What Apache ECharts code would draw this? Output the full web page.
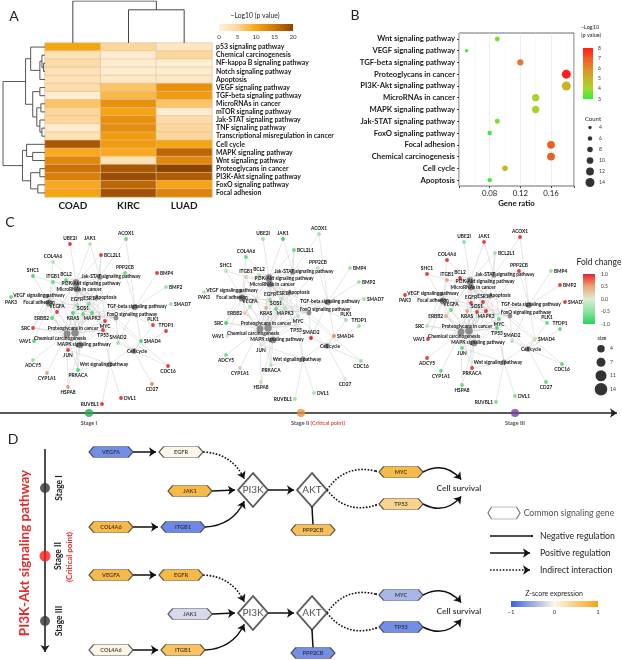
<!DOCTYPE html>
<html><head><meta charset="utf-8">
<script src="https://cdn.jsdelivr.net/npm/echarts@6/dist/echarts.min.js"></script>
<style>html,body{margin:0;padding:0;background:#fff}#c{width:622px;height:660px}</style>
</head><body><div id="c"></div>
<script>
// ================= DATA =================
// Panel A heatmap (-log10 p value)
const heatCols = ['COAD','KIRC','LUAD'];
const heatRows = ['p53 signaling pathway','Chemical carcinogenesis','NF-kappa B signaling pathway','Notch signaling pathway','Apoptosis','VEGF signaling pathway','TGF-beta signaling pathway','MicroRNAs in cancer','mTOR signaling pathway','Jak-STAT signaling pathway','TNF signaling pathway','Transcriptional misregulation in cancer','Cell cycle','MAPK signaling pathway','Wnt signaling pathway','Proteoglycans in cancer','PI3K-Akt signaling pathway','FoxO signaling pathway','Focal adhesion'];
const heatCOAD = [10,3,4,3,3,4,1,7,5,5,1,3,18,9.5,13,15.5,14,9.5,10];
const heatKIRC = [5,1,1,1,2,7,8,12,10,12,12.5,11,11,9.5,3,18,19,16.5,18.5];
const heatLUAD = [2,5,0.5,1,2,12,11,7,1,4,5,5,10,16.5,13,20,17.5,10,13.5];
const heatTicks = [0,5,10,15,20];
// dendrogram linkages: [childA, childB, height]; ids >= n are merged clusters
const colLinkage = [[1,2,0.79],[0,3,1.0]];
const rowLinkage = [
  [2,3,1.5],[1,19,3],[20,4,5],[0,21,14],
  [5,6,5],[10,11,3],[9,24,5],[7,8,4],[26,25,8],[23,27,12],[22,28,19],
  [13,14,12],[12,30,18],[15,16,5],[17,18,7],[32,33,14],[31,34,22],
  [29,35,41]
];
// Panel B dot plot
const bPathways = ['Wnt signaling pathway','VEGF signaling pathway','TGF-beta signaling pathway','Proteoglycans in cancer','PI3K-Akt signaling pathway','MicroRNAs in cancer','MAPK signaling pathway','Jak-STAT signaling pathway','FoxO signaling pathway','Focal adhesion','Chemical carcinogenesis','Cell cycle','Apoptosis'];
const bGeneRatio = [0.09,0.05,0.12,0.18,0.18,0.14,0.14,0.09,0.08,0.16,0.16,0.10,0.08];
const bCount = [7,4,9,14,14,11,11,7,6,12,12,8,6];
const bLogP = [3.6,3.0,6.4,8.0,5.0,4.2,4.3,3.6,3.1,6.9,6.9,5.0,3.1];
const bLogPTicks = [3,4,5,6,7,8];
const countLegend = [4,6,8,10,12,14];
// Panel C networks
const netGenes = ['UBE2I','JAK1','ACOX1','BCL2L1','COL4A6','SHC1','ITGB1','BCL2','PPP2CB','BMP4','BMP2','PAK3','SMAD7','EGFR','ESR1','SOS1','VEGFA','KRAS','MAPK3','ERBB2','MYC','PLK1','TFDP1','SRC','TP53','VAV1','SMAD2','SMAD4','JUN','ADCY5','CDC16','PRKACA','CYP1A1','CD27','HSPA8','DVL1','RUVBL1'];
const fcStage1 = [0.9,-0.3,-0.7,0.9,-0.3,-0.8,-0.7,-0.7,-0.7,0.9,-0.4,-0.7,-0.4,-0.4,-0.6,-0.7,0.9,-0.8,-0.8,-0.8,0.9,0.9,0.9,0.9,0.9,-0.8,-0.4,-0.8,0.9,-0.4,0.9,-0.8,0.5,0.6,0.55,0.9,0.9];
const fcStage2 = [-0.4,-0.9,-0.4,-0.7,-0.7,-0.3,0.25,-0.3,-0.2,-0.4,-0.4,-0.3,-0.4,-0.6,-0.3,-0.7,-0.3,0.45,-0.3,0.25,-0.2,-0.4,-0.4,-0.9,-0.1,-0.1,1.0,0.6,-0.1,-0.6,-0.4,-0.3,0.25,0.05,0.2,-0.4,-0.4];
const fcStage3 = [-0.5,0.9,0.9,-0.4,0.9,0.9,0.5,0.9,0.9,-0.4,0.9,0.9,0.9,0.9,0.9,0.9,-0.7,0.5,0.9,0.5,-0.7,-0.7,-0.7,-0.3,-0.8,0.9,-0.3,0.2,-0.7,0.9,-0.7,0.9,-0.7,-0.7,-0.7,-0.6,-0.6];
const netPathways = ['Jak-STAT signaling pathway','PI3K-Akt signaling pathway','MicroRNAs in cancer','VEGF signaling pathway','Apoptosis','Focal adhesion','TGF-beta signaling pathway','FoxO signaling pathway','Proteoglycans in cancer','Chemical carcinogenesis','MAPK signaling pathway','Cell cycle','Wnt signaling pathway'];
const netMembers = [
  ['JAK1','BCL2L1','BCL2','MYC','EGFR','SOS1','ACOX1'],
  ['COL4A6','ITGB1','BCL2','BCL2L1','JAK1','EGFR','VEGFA','KRAS','SOS1','MAPK3','MYC','TP53','PPP2CB','ERBB2'],
  ['BCL2','EGFR','ERBB2','KRAS','MYC','TP53','SHC1','UBE2I','ESR1','PLK1','CDC16'],
  ['VEGFA','KRAS','MAPK3','SRC'],
  ['BCL2','BCL2L1','TP53','MAPK3','JUN','KRAS'],
  ['COL4A6','ITGB1','SHC1','BCL2','EGFR','ERBB2','VEGFA','MAPK3','SRC','VAV1','JUN','PAK3'],
  ['BMP4','BMP2','SMAD7','SMAD2','SMAD4','MYC','MAPK3','PPP2CB','ACOX1'],
  ['EGFR','KRAS','SOS1','MAPK3','SMAD2','SMAD4'],
  ['ESR1','ERBB2','EGFR','VEGFA','KRAS','SOS1','MAPK3','MYC','TP53','SRC','PRKACA','ITGB1','VAV1','PPP2CB'],
  ['EGFR','ERBB2','KRAS','SOS1','MAPK3','SRC','CYP1A1','TP53','ESR1','HSPA8','ADCY5','PRKACA'],
  ['EGFR','ERBB2','VEGFA','KRAS','SOS1','MAPK3','MYC','TP53','JUN','PRKACA','HSPA8'],
  ['MYC','TP53','SMAD2','SMAD4','PLK1','TFDP1','CDC16','CD27'],
  ['MYC','TP53','SMAD4','JUN','PRKACA','DVL1','RUVBL1']
];
const stages = ['Stage I','Stage II','Stage III'];
const stageNote = '(Critical point)';
const fcTicks = [-1,-0.5,0,0.5,1];
const sizeLegend = [4,7,11,14];
// Panel D pathway
const dGenes = ['VEGFA','EGFR','JAK1','COL4A6','ITGB1','PPP2CB','MYC','TP53'];
const zStageI = [-0.9,0.04,0.95,0.95,-0.95,0.85,0.95,0.55];
const zStageIII = [0.95,0.95,-0.25,0.04,0.8,-0.9,-0.55,-0.9];
const dHubs = ['PI3K','AKT'];
const dOutcome = 'Cell survival';
const dEdges = [['VEGFA','EGFR','pos'],['EGFR','PI3K','ind'],['JAK1','PI3K','pos'],['COL4A6','ITGB1','pos'],['ITGB1','PI3K','pos'],['PI3K','AKT','pos'],['PPP2CB','AKT','neg'],['AKT','MYC','indneg'],['AKT','TP53','indneg'],['MYC',dOutcome,'pos'],['TP53',dOutcome,'pos']];
const dLegend = ['Common signaling gene','Negative regulation','Positive regulation','Indirect interaction'];
const zTicks = ['\u22121','0','1'];

// ================= LAYOUT / STYLE =================
const FONT = 'Lato, "Open Sans", "DejaVu Sans", sans-serif';
const heatColors = ['#fff1dc','#fdd79a','#f7a412','#d37508','#8d4302'];
const bColors = ['#33ee33','#9fdc2c','#c9b424','#e28a2a','#f05a24','#ff1f1a'];
const fcStops = [[-1,'#27d45a'],[-0.5,'#8fe2a0'],[0,'#d9eecf'],[0.5,'#eea57a'],[1,'#e3262a']];
const zStops = [[-1,'#3d63dc'],[0,'#fdf6ea'],[1,'#f5a30f']];
const netGeneLayout = {UBE2I:[70,244,'top'],JAK1:[90,244,'top'],ACOX1:[126,239,'top'],BCL2L1:[101,255,'right'],COL4A6:[53,262,'top'],SHC1:[33,276,'top'],ITGB1:[53,282,'top'],BCL2:[66,280,'top'],PPP2CB:[125,273,'top'],BMP4:[157,273,'right'],BMP2:[166,287,'right'],PAK3:[11,297,'bottom'],SMAD7:[171,304,'right'],EGFR:[77,305,'top'],ESR1:[89,304,'top'],SOS1:[83,314,'top'],VEGFA:[57,312,'top'],KRAS:[73,313,'bottom'],MAPK3:[92,313,'bottom'],ERBB2:[52,318,'left'],MYC:[105,321,'bottom'],PLK1:[153,325,'top'],TFDP1:[166,331,'top'],SRC:[33,328,'left'],TP53:[103,330,'bottom'],VAV1:[34,341,'left'],SMAD2:[118,343,'top'],SMAD4:[141,341,'right'],JUN:[68,350,'bottom'],ADCY5:[33,360,'bottom'],CDC16:[168,366,'bottom'],PRKACA:[78,370,'bottom'],CYP1A1:[47,373,'bottom'],CD27:[152,384,'bottom'],HSPA8:[68,387,'bottom'],DVL1:[121,398,'right'],RUVBL1:[102,404,'left']};
const netPathLayout = {'Jak-STAT signaling pathway':[100,277,11,-1],'PI3K-Akt signaling pathway':[76,283,15,0],'MicroRNAs in cancer':[77,289,2,0],'VEGF signaling pathway':[47,296,-8,-1],'Apoptosis':[96,298,10,-1],'Focal adhesion':[49,303,-10,-1],'TGF-beta signaling pathway':[135,307,2,-1],'FoxO signaling pathway':[116,318,16,-4],'Proteoglycans in cancer':[75,333,-2,-5],'Chemical carcinogenesis':[67,334,-7,4],'MAPK signaling pathway':[80,345,4,-1],'Cell cycle':[134,351,3,0],'Wnt signaling pathway':[110,364,-6,0]};
const netOffsets = [[0,0],[193,-5],[394,-2]];
const stageDotX = [89,301,515];
const stageColors = ['#1fae4b','#f08c3a','#7b3aa8'];
const dPos = {VEGFA:[111,452],EGFR:[181,452],JAK1:[190,491],COL4A6:[111,527],ITGB1:[183,527],PPP2CB:[313,530],MYC:[401,472],TP53:[401,504],PI3K:[253,490],AKT:[312,490],'Cell survival':[459,488]};
const dStageDy = [0,123];
const dEdgeGeom = [['r','l',0],['r','tl',0.3],['r','l',0],['r','l',0],['r','bl',-0.3],['r','l',0],['t','b',0],['r','l',0.35],['r','l',-0.35],['r','t',0.4],['r','b',-0.4]];
const HEX = 'path://M0,5L2.2,0L17.8,0L20,5L17.8,10L2.2,10Z';
const HEX_SIZE = [44,11];
const DIA_SIZE = [30,34];

// ================= HELPERS =================
function mix(c1,c2,t){const a=parseInt(c1.slice(1),16),b=parseInt(c2.slice(1),16);const f=(s)=>Math.round(((a>>s)&255)*(1-t)+((b>>s)&255)*t);return '#'+((1<<24)|(f(16)<<16)|(f(8)<<8)|f(0)).toString(16).slice(1);}
function lerpColor(stops,v){if(v<=stops[0][0])return stops[0][1];for(let i=1;i<stops.length;i++){if(v<=stops[i][0]){const t=(v-stops[i-1][0])/(stops[i][0]-stops[i-1][0]);return mix(stops[i-1][1],stops[i][1],t);}}return stops[stops.length-1][1];}
function grad(colors,horizontal,reverse){const n=colors.length;let cs=colors.map((c,i)=>({offset:i/(n-1),color:c}));if(reverse)cs=colors.slice().reverse().map((c,i)=>({offset:i/(n-1),color:c}));return new echarts.graphic.LinearGradient(0,0,horizontal?1:0,horizontal?0:1,cs);}
function dendro(linkage,n){const pos=[],hgt=[];for(let i=0;i<n;i++){pos.push(i);hgt.push(0);}const segs=[];linkage.forEach(([a,b,h])=>{segs.push([[pos[a],hgt[a]],[pos[a],h],[pos[b],h],[pos[b],hgt[b]]]);pos.push((pos[a]+pos[b])/2);hgt.push(h);});return segs;}
const countSize = c => 1 + 0.57*c;
const netSize = s => 5.5 + 0.5*s;

const grids=[],xAxes=[],yAxes=[],series=[],graphics=[];
function addGrid(g,xa,ya){grids.push(g);const i=grids.length-1;xAxes.push(Object.assign({gridIndex:i},xa));yAxes.push(Object.assign({gridIndex:i},ya));return i;}
const hv=(min,max,inv)=>({type:'value',show:false,min,max,inverse:!!inv});
function txt(text,x,y,o){o=o||{};graphics.push({type:'text',x,y,rotation:o.rot||0,z:20,style:{text,fontSize:o.size||8,fontWeight:o.weight||'normal',fontFamily:FONT,fill:o.color||'#222',align:o.align||'center',textAlign:o.align||'center',verticalAlign:'middle',textVerticalAlign:'middle'}});}
function bar(x,y,w,h,fill){graphics.push({type:'rect',z:15,shape:{x,y,width:w,height:h},style:{fill}});}

// ================= PANEL A =================
const gHeat = addGrid({left:45,top:43,width:167,height:154},
  {type:'category',data:heatCols,axisLine:{show:false},axisTick:{show:false},axisLabel:{interval:0,fontSize:10,fontWeight:'bold',color:'#1a1a1a',margin:4,fontFamily:FONT}},
  {type:'category',data:heatRows,inverse:true,position:'right',axisLine:{show:false},axisTick:{show:false},axisLabel:{interval:0,fontSize:6.9,fontWeight:'bold',color:'#1a1a1a',margin:4,fontFamily:FONT}});
const heatData=[];heatRows.forEach((r,i)=>{[heatCOAD,heatKIRC,heatLUAD].forEach((arr,j)=>heatData.push([j,i,arr[i]]));});
const sHeat = series.push({type:'heatmap',xAxisIndex:gHeat,yAxisIndex:gHeat,data:heatData,itemStyle:{borderColor:'#d6c3a3',borderWidth:0.6}})-1;
const gTop = addGrid({left:45,top:1,width:167,height:42},hv(-0.5,2.5),hv(0,1.0));
series.push({type:'lines',coordinateSystem:'cartesian2d',xAxisIndex:gTop,yAxisIndex:gTop,polyline:true,data:dendro(colLinkage,3).map(s=>({coords:s})),lineStyle:{color:'#444',width:1,opacity:1},silent:true});
const gLeft = addGrid({left:2,top:43,width:43,height:154},hv(0,42,true),hv(-0.5,18.5,true));
series.push({type:'lines',coordinateSystem:'cartesian2d',xAxisIndex:gLeft,yAxisIndex:gLeft,polyline:true,data:dendro(rowLinkage,19).map(s=>({coords:s.map(p=>[p[1],p[0]])})),lineStyle:{color:'#444',width:0.9,opacity:1},silent:true});
bar(219,24,74,7,grad(heatColors,true,false));
addGrid({left:219,top:24,width:74,height:7},{type:'value',min:0,max:20,interval:5,axisLine:{show:false},axisTick:{show:false},splitLine:{show:false},axisLabel:{fontSize:6.2,color:'#333',margin:3,fontFamily:FONT,formatter:v=>heatTicks.includes(v)?String(v):''}},hv(0,1));
txt('\u2212Log10 (p value)',255,16,{size:6.8});
txt('A',14,16,{size:14});

// ================= PANEL B =================
const gB = addGrid({left:459,top:33,width:115,height:153,show:true,borderColor:'#444',borderWidth:0.8,backgroundColor:'#fff'},
  {type:'value',min:0.04,max:0.19,interval:0.04,axisLine:{show:false},axisTick:{show:true,length:2,lineStyle:{color:'#444'}},splitLine:{show:true,lineStyle:{color:'#e4e4e4',width:0.6}},minorTick:{show:false,splitNumber:2},minorSplitLine:{show:true,lineStyle:{color:'#f0f0f0',width:0.5}},
   axisLabel:{fontSize:7.8,color:'#222',margin:3,fontFamily:FONT,formatter:v=>{const r=Math.round(v*100);return (r===8||r===12||r===16)?(r/100).toFixed(2):'';}},
   name:'Gene ratio',nameLocation:'middle',nameGap:13,nameTextStyle:{fontSize:7.8,fontWeight:'bold',color:'#111',fontFamily:FONT}},
  {type:'category',data:bPathways,inverse:true,axisLine:{show:false},axisTick:{show:true,length:2,alignWithLabel:true,interval:0,lineStyle:{color:'#444'}},splitLine:{show:false},axisLabel:{interval:0,fontSize:7.7,fontWeight:'bold',color:'#1a1a1a',margin:4,fontFamily:FONT}});
const sB = series.push({type:'scatter',xAxisIndex:gB,yAxisIndex:gB,data:bPathways.map((p,i)=>[bGeneRatio[i],p,bCount[i],bLogP[i]]),symbolSize:v=>countSize(v[2]),itemStyle:{opacity:1},z:5})-1;
const gCnt = addGrid({left:584,top:122,width:12,height:66},hv(-1,1),{type:'category',data:countLegend.map(String),inverse:true,position:'right',axisLine:{show:false},axisTick:{show:false},axisLabel:{interval:0,fontSize:5,color:'#333',margin:3,fontFamily:FONT}});
series.push({type:'scatter',xAxisIndex:gCnt,yAxisIndex:gCnt,data:countLegend.map(c=>[0,String(c),c]),symbolSize:v=>countSize(v[2]),itemStyle:{color:'#000'}});
bar(583,48,10,51,grad(bColors,false,true));
addGrid({left:583,top:48,width:10,height:51},hv(0,1),{type:'value',min:3,max:8,interval:1,position:'right',axisLine:{show:false},axisTick:{show:false},splitLine:{show:false},axisLabel:{fontSize:5,color:'#333',margin:5,fontFamily:FONT,formatter:v=>bLogPTicks.includes(v)?String(v):''}});
txt('\u2212Log10',590,27,{size:5.5});
txt('(p value)',591,35,{size:5.5});
txt('Count',593,119,{size:6});
txt('B',355,15,{size:14});

// ================= PANEL C =================
[fcStage1,fcStage2,fcStage3].forEach((fc,si)=>{
  const [dx,dy]=netOffsets[si];
  const g = addGrid({left:dx,top:205+dy,width:210,height:215},hv(0,210),hv(205,420,true));
  const nodes = netGenes.map((gn,i)=>{const L=netGeneLayout[gn];return {name:gn,value:[L[0],L[1]],symbolSize:3.8,itemStyle:{color:lerpColor(fcStops,fc[i])},label:{position:L[2]}};});
  netPathways.forEach((p,j)=>{const L=netPathLayout[p];nodes.push({name:p,value:[L[0],L[1]],symbolSize:3+netMembers[j].length*0.32,itemStyle:{color:'#8c8c8c'},label:{position:'inside',offset:[L[2],L[3]]}});});
  const links=[];netPathways.forEach((p,j)=>netMembers[j].forEach(gn=>links.push({source:p,target:gn})));
  series.push({type:'graph',layout:'none',coordinateSystem:'cartesian2d',xAxisIndex:g,yAxisIndex:g,data:nodes,links,symbol:'circle',
    lineStyle:{color:'#cdcdcd',width:0.5,opacity:1,curveness:0},
    label:{show:true,fontSize:4.8,fontWeight:'bold',color:'#111',distance:1,formatter:'{b}',fontFamily:FONT},
    emphasis:{disabled:true},silent:true,z:2});
});
const gSize = addGrid({left:595,top:342,width:12,height:54},hv(-1,1),{type:'category',data:sizeLegend.map(String),inverse:true,position:'right',axisLine:{show:false},axisTick:{show:false},axisLabel:{interval:0,fontSize:5,color:'#333',margin:3,fontFamily:FONT}});
series.push({type:'scatter',xAxisIndex:gSize,yAxisIndex:gSize,data:sizeLegend.map(s=>[0,String(s),s]),symbolSize:v=>netSize(v[2]),itemStyle:{color:'#000'}});
bar(583,274,12,50,grad(fcStops.map(s=>s[1]),false,true));
addGrid({left:583,top:274,width:12,height:50},hv(0,1),{type:'value',min:-1,max:1,interval:0.5,position:'right',axisLine:{show:false},axisTick:{show:false},splitLine:{show:false},axisLabel:{fontSize:5,color:'#333',margin:6,fontFamily:FONT,formatter:v=>fcTicks.includes(v)?v.toFixed(1):''}});
txt('Fold change',599,262,{size:8.5});
txt('size',602,338,{size:5.5});
txt('C',10,222,{size:14});

// page grid (pixel-like units) for timelines and panel D schematic
const gPage = addGrid({left:0,top:0,width:622,height:660},hv(0,622),hv(0,660,true));
series.push({type:'lines',coordinateSystem:'cartesian2d',xAxisIndex:gPage,yAxisIndex:gPage,data:[{coords:[[0,413],[617,413]]}],symbol:['none','arrow'],symbolSize:7,lineStyle:{color:'#222',width:1.6,opacity:1},silent:true,z:3});
series.push({type:'scatter',xAxisIndex:gPage,yAxisIndex:gPage,z:4,data:stages.map((s,i)=>({value:[stageDotX[i],413],itemStyle:{color:stageColors[i]},
  label:{show:true,position:'bottom',distance:3,offset:[i===1?17:0,0],formatter:i===1?s+' {r|'+stageNote+'}':s,fontSize:5.5,fontWeight:'bold',color:'#222',fontFamily:FONT,rich:{r:{fontSize:5.5,fontWeight:'bold',color:'#e0201f',fontFamily:FONT}}}})),symbolSize:8});

// ================= PANEL D =================
const dNodes=[];
[zStageI,zStageIII].forEach((zs,s)=>{
  const dy=dStageDy[s];
  dGenes.forEach((gn,i)=>{const p=dPos[gn];dNodes.push({name:gn,value:[p[0],p[1]+dy],symbol:HEX,symbolSize:HEX_SIZE,itemStyle:{color:lerpColor(zStops,zs[i]),borderColor:'#333',borderWidth:0.8},label:{show:true,position:'inside',fontSize:5.6,fontWeight:'bold',color:'#222'}});});
  dHubs.forEach(h=>{const p=dPos[h];dNodes.push({name:h,value:[p[0],p[1]+dy],symbol:'diamond',symbolSize:DIA_SIZE,itemStyle:{color:'#fff',borderColor:'#333',borderWidth:1.8},label:{show:true,position:'inside',fontSize:10,color:'#222'}});});
  const p=dPos[dOutcome];dNodes.push({name:dOutcome,value:[p[0],p[1]+dy],symbolSize:1,itemStyle:{color:'rgba(0,0,0,0)'},label:{show:true,position:'inside',fontSize:8.4,fontWeight:'bold',color:'#111'}});
});
// legend hexagon
dNodes.push({name:dLegend[0],value:[504,513],symbol:HEX,symbolSize:[32,12],itemStyle:{color:'#fff',borderColor:'#555',borderWidth:0.8},label:{show:true,position:'right',distance:3,fontSize:8.7,color:'#222'}});
series.push({type:'scatter',xAxisIndex:gPage,yAxisIndex:gPage,data:dNodes,z:6,label:{formatter:'{b}',fontFamily:FONT},silent:true});

function halfSize(n){if(dGenes.includes(n))return [HEX_SIZE[0]/2,HEX_SIZE[1]/2];if(dHubs.includes(n))return [DIA_SIZE[0]/2,DIA_SIZE[1]/2];return [4,6];}
function anchor(n,dy,side){const p=dPos[n],[hw,hh]=halfSize(n);let o;
  if(n===dOutcome)o={t:[4,-hh],b:[4,hh]}[side];
  else o={r:[hw,0],l:[-hw,0],t:[0,-hh],b:[0,hh],tl:[-hw/2,-hh/2],bl:[-hw/2,hh/2]}[side];
  return [p[0]+o[0],p[1]+dy+o[1]];}
function pullBack(p1,p2,c,gap){let d;if(c){const cp=[(p1[0]+p2[0])/2-(p1[1]-p2[1])*c,(p1[1]+p2[1])/2-(p2[0]-p1[0])*c];d=[p2[0]-cp[0],p2[1]-cp[1]];}else d=[p2[0]-p1[0],p2[1]-p1[1]];const L=Math.hypot(d[0],d[1])||1;return [p2[0]-d[0]/L*gap,p2[1]-d[1]/L*gap];}
const kinds={pos:[],ind:[],neg:[],indneg:[]};
dStageDy.forEach(dy=>{dEdges.forEach((e,k)=>{const [fs,ts,c]=dEdgeGeom[k];const p1=anchor(e[0],dy,fs);let p2=anchor(e[1],dy,ts);
  if(e[2]==='pos'||e[2]==='ind')p2=pullBack(p1,p2,c,3);
  if(e[2]==='indneg')p2=pullBack(p1,p2,c,3);
  kinds[e[2]].push({coords:[p1,p2],lineStyle:{curveness:c}});});});
kinds.neg.push({coords:[[490,536],[532,536]]});
kinds.pos.push({coords:[[490,553],[530,553]]});
kinds.ind.push({coords:[[490,570],[530,570]]});
const BAR='path://M0,0H10V2H0Z';
const lineBase={type:'lines',coordinateSystem:'cartesian2d',xAxisIndex:gPage,yAxisIndex:gPage,silent:true,z:5};
series.push(Object.assign({},lineBase,{data:kinds.pos,symbol:['none','arrow'],symbolSize:[6,7],lineStyle:{color:'#111',width:1.5,opacity:1}}));
series.push(Object.assign({},lineBase,{data:kinds.ind,symbol:['none','arrow'],symbolSize:[6,7],lineStyle:{color:'#111',width:1.6,opacity:1,type:[1.6,1.6]}}));
series.push(Object.assign({},lineBase,{data:kinds.neg,symbol:['none',BAR],symbolSize:[9,1.8],lineStyle:{color:'#111',width:1.5,opacity:1}}));
series.push(Object.assign({},lineBase,{data:kinds.indneg,symbol:['none',BAR],symbolSize:[9,1.8],lineStyle:{color:'#111',width:1.6,opacity:1,type:[1.6,1.6]}}));
// left timeline
series.push(Object.assign({},lineBase,{data:[{coords:[[45,449],[45,652]]}],symbol:['none','arrow'],symbolSize:[6,7],lineStyle:{color:'#222',width:1.6,opacity:1}}));
series.push({type:'scatter',xAxisIndex:gPage,yAxisIndex:gPage,z:6,silent:true,data:[{value:[45,488],itemStyle:{color:'#333'},symbolSize:10},{value:[45,556],itemStyle:{color:'#ff1a1a'},symbolSize:11},{value:[45,621],itemStyle:{color:'#333'},symbolSize:10}]});
const R=Math.PI/2;
txt('PI3K-Akt signaling pathway',25,553,{rot:R,size:13.5,weight:'bold',color:'#e62a2a'});
txt(stages[0],59,488,{rot:R,size:8.5,weight:'bold'});
txt(stages[1],58,556,{rot:R,size:8.5,weight:'bold'});
txt(stageNote,69,557,{rot:R,size:8,weight:'bold',color:'#e62a2a'});
txt(stages[2],59,621,{rot:R,size:8.5,weight:'bold'});
txt(dLegend[1],540,536,{size:8.7,align:'left'});
txt(dLegend[2],540,553,{size:8.7,align:'left'});
txt(dLegend[3],540,570,{size:8.7,align:'left'});
txt('Z-score expression',554,594,{size:7});
bar(511,601,87,6,grad(zStops.map(s=>s[1]),true,false));
addGrid({left:511,top:601,width:87,height:6},{type:'value',min:-1,max:1,interval:1,axisLine:{show:false},axisTick:{show:false},splitLine:{show:false},axisLabel:{fontSize:6,color:'#333',margin:2,fontFamily:FONT,formatter:v=>zTicks[Math.round(v)+1]}},hv(0,1));
txt('D',13,439,{size:14});

const chart = echarts.init(document.getElementById('c'),null,{renderer:'canvas'});
chart.setOption({
  animation:false,
  backgroundColor:'#fff',
  textStyle:{fontFamily:FONT},
  grid:grids, xAxis:xAxes, yAxis:yAxes,
  visualMap:[
    {type:'continuous',show:false,seriesIndex:sHeat,dimension:2,min:0,max:20,inRange:{color:heatColors}},
    {type:'continuous',show:false,seriesIndex:sB,dimension:3,min:3,max:8,inRange:{color:bColors}}
  ],
  series:series,
  graphic:{elements:graphics}
});
</script></body></html>
